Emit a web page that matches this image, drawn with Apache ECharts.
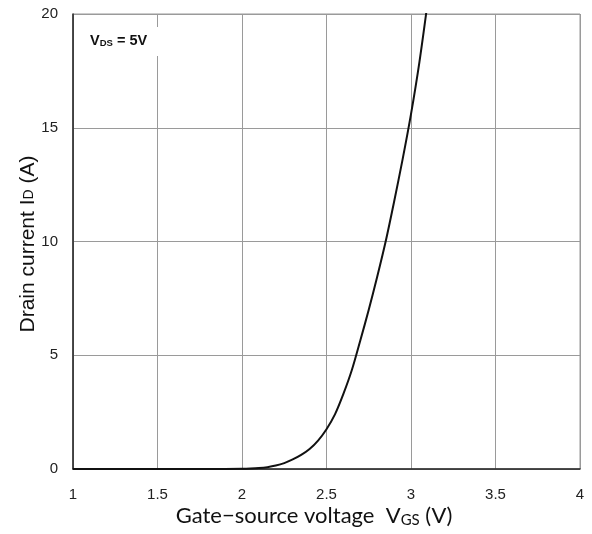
<!DOCTYPE html>
<html><head><meta charset="utf-8">
<script src="https://cdn.jsdelivr.net/npm/echarts@6/dist/echarts.min.js"></script>
<style>html,body{margin:0;padding:0;background:#fff}#c{width:592px;height:534px}</style>
</head><body><div id="c"></div>
<script>
const vgs = [1.0, 1.5, 1.8, 2.0, 2.05, 2.1, 2.15, 2.2, 2.25, 2.3, 2.35, 2.4, 2.45, 2.5, 2.55, 2.6, 2.65, 2.7, 2.75, 2.8, 2.85, 2.9, 2.95, 3.0, 3.05, 3.1];
const id  = [0.0, 0.0, 0.0, 0.01, 0.02, 0.04, 0.08, 0.15, 0.26, 0.42, 0.62, 0.88, 1.25, 1.75, 2.4, 3.3, 4.35, 5.65, 7.0, 8.45, 10.0, 11.75, 13.6, 15.6, 17.9, 20.6];
const xTicks = ['1','1.5','2','2.5','3','3.5','4'];
const yTicks = ['0','5','10','15','20'];

const chart = echarts.init(document.getElementById('c'), null, {renderer:'canvas'});
const tickFont = {fontFamily:'Liberation Sans, Arial, sans-serif', fontSize:15, color:'#222'};
chart.setOption({
  animation:false,
  grid:{left:73, right:12, top:14, bottom:65, show:true, borderColor:'#999', borderWidth:1},
  xAxis:{type:'value', min:1, max:4, interval:0.5,
    axisLine:{show:true, onZero:false, lineStyle:{color:'#222', width:1.5}},
    axisTick:{show:false},
    splitLine:{show:true, lineStyle:{color:'#9a9a9a', width:1}},
    axisLabel:Object.assign({margin:18, formatter:(v)=>{const i=Math.round((v-1)/0.5);return xTicks[i]!==undefined?xTicks[i]:'';}}, tickFont)
  },
  yAxis:{type:'value', min:0, max:20, interval:5,
    axisLine:{show:true, onZero:false, lineStyle:{color:'#222', width:1.5}},
    axisTick:{show:false},
    splitLine:{show:true, lineStyle:{color:'#9a9a9a', width:1}},
    axisLabel:Object.assign({margin:15, formatter:(v)=>{const i=Math.round(v/5);return yTicks[i]!==undefined?yTicks[i]:'';}}, tickFont)
  },
  graphic:[
    {type:'text', left:78, top:27, z:100, style:{
      text:'{b|V}{s|DS}{b| = 5V}', backgroundColor:'#fff', padding:[6,30,8,12],
      rich:{b:{fontFamily:'Liberation Sans, Arial, sans-serif', fontWeight:'bold', fontSize:14.5, fill:'#111'},
            s:{fontFamily:'Liberation Sans, Arial, sans-serif', fontWeight:'bold', fontSize:9.5, fill:'#111', verticalAlign:'bottom'}}
    }},
    {type:'text', x:314, y:516, z:100, style:{
      text:'{t|Gate\u2212source voltage  V}{s|GS}{t| (V)}', align:'center', verticalAlign:'middle',
      rich:{t:{fontFamily:'Lato, sans-serif', fontSize:22, fill:'#111'},
            s:{fontFamily:'Lato, sans-serif', fontSize:15, fill:'#111', padding:[9,0,0,0]}}
    }},
    {type:'text', x:28, y:244, rotation:Math.PI/2, z:100, style:{
      text:'{t|Drain current I}{s|D}{t| (A)}', align:'center', verticalAlign:'middle',
      rich:{t:{fontFamily:'Liberation Sans, Arial, sans-serif', fontSize:21, fill:'#111'},
            s:{fontFamily:'Liberation Sans, Arial, sans-serif', fontSize:14, fill:'#111', padding:[3,0,0,0]}}
    }}
  ],
  series:[{type:'line', data:vgs.map((v,i)=>[v,id[i]]), smooth:0.3, showSymbol:false,
    lineStyle:{color:'#111', width:2}, clip:true}]
});
</script></body></html>
